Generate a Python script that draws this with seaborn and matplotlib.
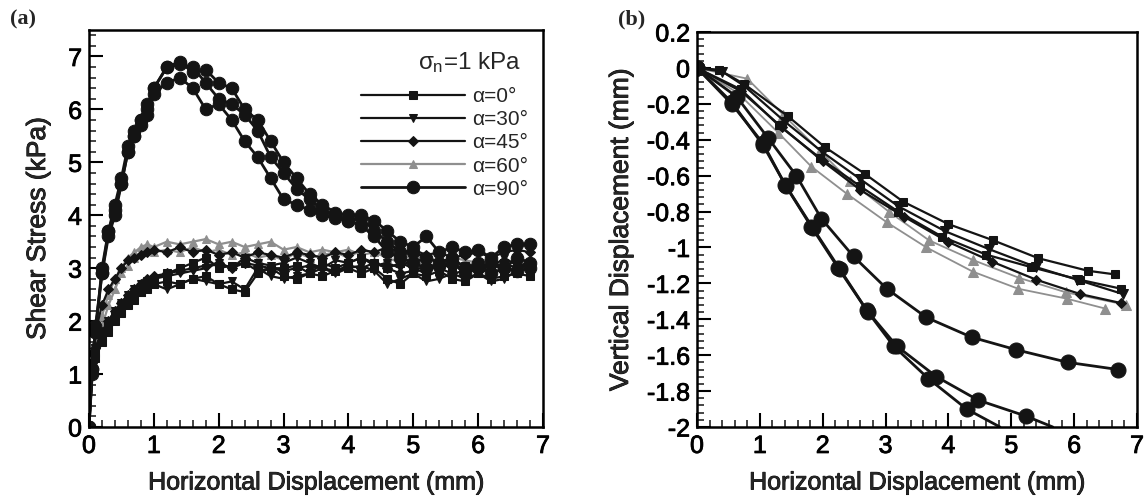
import numpy as np
import pandas as pd
import matplotlib
matplotlib.use("Agg")
import matplotlib.pyplot as plt
import matplotlib.patheffects as pe
from matplotlib.ticker import MultipleLocator, AutoMinorLocator
import seaborn as sns

# ---------------- data: panel (a) shear stress vs horizontal displacement ----------------
A_X = [0, 0.05, 0.1, 0.2, 0.3, 0.4, 0.5, 0.6, 0.7, 0.8, 0.9, 1.0, 1.2, 1.4, 1.6, 1.8, 2.0,
       2.2, 2.4, 2.6, 2.8, 3.0, 3.2, 3.4, 3.6, 3.8, 4.0, 4.2, 4.4, 4.6, 4.8, 5.0, 5.2, 5.4,
       5.6, 5.8, 6.0, 6.2, 6.4, 6.6, 6.8]

A_Y_0_1 = [0, 1.1, 1.4, 1.7, 1.9, 2.1, 2.2, 2.35, 2.45, 2.55, 2.6, 2.7, 2.75, 2.7, 2.8, 2.85,
           2.7, 2.6, 2.55, 2.9, 3.0, 2.85, 2.8, 2.9, 2.85, 2.95, 3.0, 2.9, 3.0, 2.8, 2.7, 2.9,
           2.85, 2.95, 2.8, 2.75, 2.9, 2.8, 2.85, 2.9, 2.85]
A_Y_0_2 = [0, 1.0, 1.3, 1.6, 1.8, 2.0, 2.15, 2.3, 2.4, 2.55, 2.65, 2.8, 2.9, 3.0, 3.1, 3.2,
           3.0, 3.05, 3.1, 2.95, 3.0, 3.0, 3.05, 2.9, 3.1, 3.0, 3.1, 3.2, 3.1, 3.0, 3.1, 3.0,
           2.9, 3.1, 3.0, 3.05, 2.9, 3.0, 3.1, 3.0, 3.1]
A_Y_30_1 = [0, 1.2, 1.5, 1.8, 2.0, 2.2, 2.35, 2.5, 2.6, 2.7, 2.75, 2.8, 2.85, 2.9, 2.95, 3.0,
            3.1, 3.0, 3.2, 3.1, 3.05, 3.1, 3.2, 3.1, 3.0, 3.15, 3.1, 3.2, 3.05, 3.1, 3.0, 3.2,
            3.1, 3.0, 3.1, 2.95, 3.05, 3.0, 3.2, 3.05, 3.1]
A_Y_30_2 = [0, 1.0, 1.5, 1.7, 1.9, 2.1, 2.3, 2.4, 2.55, 2.65, 2.7, 2.7, 2.6, 2.7, 2.8, 2.75,
            2.7, 2.75, 2.6, 3.0, 2.85, 2.8, 2.85, 2.9, 3.0, 2.9, 3.0, 3.05, 2.95, 2.7, 2.8, 2.9,
            2.75, 2.8, 2.9, 2.8, 2.9, 2.75, 2.8, 2.95, 3.0]
A_Y_45_1 = [0, 1.4, 1.8, 2.3, 2.6, 2.8, 3.0, 3.15, 3.2, 3.25, 3.3, 3.35, 3.3, 3.4, 3.3, 3.35,
            3.25, 3.3, 3.2, 3.3, 3.25, 3.2, 3.3, 3.25, 3.2, 3.3, 3.25, 3.35, 3.3, 3.4, 3.3, 3.35,
            3.25, 3.3, 3.2, 3.25, 3.3, 3.2, 3.3, 3.35, 3.3]
A_Y_45_2 = [0, 1.2, 1.5, 1.8, 2.0, 2.2, 2.35, 2.5, 2.6, 2.7, 2.8, 2.85, 2.9, 2.95, 3.0, 3.05,
            3.1, 3.0, 3.1, 3.05, 3.0, 2.95, 3.0, 3.05, 3.0, 2.95, 3.05, 3.0, 3.1, 3.0, 2.9, 2.95,
            3.05, 3.0, 2.9, 2.95, 3.0, 3.1, 2.95, 3.0, 3.05]
A_Y_60_1 = [0, 1.2, 1.6, 2.1, 2.5, 2.8, 3.0, 3.2, 3.3, 3.4, 3.45, 3.4, 3.5, 3.45, 3.5, 3.55,
            3.45, 3.5, 3.4, 3.45, 3.5, 3.35, 3.4, 3.3, 3.35, 3.3, 3.35, 3.25, 3.3, 3.2, 3.3, 3.15,
            3.25, 3.1, 3.2, 3.15, 3.1, 3.2, 3.05, 3.15, 3.1]
A_Y_60_2 = [0, 1.1, 1.5, 1.9, 2.3, 2.6, 2.9, 3.05, 3.2, 3.3, 3.35, 3.3, 3.35, 3.3, 3.4, 3.3,
            3.35, 3.25, 3.3, 3.2, 3.25, 3.15, 3.3, 3.2, 3.25, 3.3, 3.2, 3.35, 3.3, 3.2, 3.1, 3.2,
            3.0, 3.1, 3.15, 3.05, 3.1, 3.0, 3.1, 3.0, 3.15]
A_Y_90_1 = [0, 1.1, 1.9, 2.9, 3.7, 4.1, 4.6, 5.2, 5.5, 5.8, 6.0, 6.4, 6.8, 6.9, 6.7, 6.75,
            6.5, 6.4, 6.0, 5.8, 5.4, 5.0, 4.7, 4.4, 4.2, 4.05, 4.0, 4.0, 3.9, 3.7, 3.5, 3.4,
            3.6, 3.3, 3.4, 3.3, 3.35, 3.2, 3.4, 3.45, 3.45]
A_Y_90_2 = [0, 1.0, 1.8, 2.9, 3.6, 4.0, 4.6, 5.2, 5.5, 5.7, 5.9, 6.3, 6.5, 6.6, 6.4, 6.0,
            6.1, 5.8, 5.4, 5.1, 4.7, 4.3, 4.2, 4.1, 4.0, 3.95, 3.9, 3.8, 3.6, 3.3, 3.2, 3.1,
            3.0, 3.05, 3.1, 2.9, 3.0, 3.1, 3.0, 3.2, 3.1]
A_Y_90_3 = [0, 1.1, 1.8, 3.0, 3.7, 4.2, 4.7, 5.3, 5.6, 5.8, 6.1, 6.4, 6.8, 6.85, 6.8, 6.5,
            6.2, 6.1, 5.9, 5.6, 5.1, 4.8, 4.5, 4.3, 4.1, 4.0, 3.9, 3.95, 3.7, 3.5, 3.3, 3.3,
            3.2, 3.1, 3.2, 3.0, 3.1, 2.9, 3.0, 2.95, 3.0]

# ---------------- data: panel (b) vertical vs horizontal displacement ----------------
B_X_0_1 = [0, 0.35, 0.75, 1.45, 2.03, 2.67, 3.28, 4.0, 4.71, 5.43, 6.22, 6.65]
B_Y_0_1 = [0, -0.01, -0.09, -0.27, -0.44, -0.59, -0.745, -0.87, -0.96, -1.06, -1.13, -1.15]
B_X_0_2 = [0, 0.7, 1.3, 1.95, 2.6, 3.2, 3.9, 4.6, 5.32, 6.09, 6.75]
B_Y_0_2 = [0, -0.12, -0.32, -0.50, -0.66, -0.80, -0.94, -1.04, -1.11, -1.18, -1.23]
B_X_30 = [0, 0.4, 0.75, 1.4, 2.0, 2.6, 3.2, 3.95, 4.65, 5.4, 6.05, 6.78]
B_Y_30 = [0, -0.02, -0.10, -0.30, -0.47, -0.62, -0.77, -0.91, -1.01, -1.11, -1.18, -1.26]
B_X_45 = [0, 0.7, 1.35, 2.0, 2.6, 3.3, 4.0, 4.7, 5.4, 6.1, 6.75]
B_Y_45 = [0, -0.13, -0.33, -0.52, -0.68, -0.83, -0.97, -1.08, -1.18, -1.26, -1.31]
B_X_60_1 = [0, 0.8, 1.37, 1.95, 2.43, 3.05, 3.69, 4.39, 5.13, 5.87, 6.83]
B_Y_60_1 = [0, -0.06, -0.26, -0.46, -0.63, -0.80, -0.96, -1.07, -1.17, -1.25, -1.32]
B_X_60_2 = [0, 0.65, 1.29, 1.82, 2.38, 3.02, 3.65, 4.39, 5.11, 5.88, 6.49]
B_Y_60_2 = [0, -0.14, -0.36, -0.55, -0.70, -0.86, -1.0, -1.135, -1.23, -1.285, -1.34]
B_X_90_1 = [0, 0.63, 1.13, 1.58, 1.98, 2.49, 3.02, 3.65, 4.37, 5.08, 5.9, 6.70]
B_Y_90_1 = [0, -0.16, -0.39, -0.60, -0.84, -1.05, -1.23, -1.39, -1.50, -1.57, -1.64, -1.68]
B_X_90_2 = [0, 0.55, 1.05, 1.40, 1.82, 2.25, 2.70, 3.18, 3.81, 4.47, 5.24, 5.66]
B_Y_90_2 = [0, -0.20, -0.42, -0.65, -0.885, -1.116, -1.35, -1.55, -1.72, -1.85, -1.94, -2.0]
B_X_90_3 = [0, 0.55, 1.05, 1.42, 1.84, 2.27, 2.72, 3.13, 3.68, 4.29, 4.82]
B_Y_90_3 = [0, -0.19, -0.43, -0.66, -0.89, -1.12, -1.36, -1.55, -1.73, -1.90, -2.0]

LABELS = ["α=0°", "α=30°", "α=45°", "α=60°", "α=90°"]
B_YTICKS = [0.2, 0, -0.2, -0.4, -0.6, -0.8, -1, -1.2, -1.4, -1.6, -1.8, -2]
B_YTICKLABELS = ["0.2", "0", "-0.2", "-0.4", "-0.6", "-0.8", "-1", "-1.2", "-1.4",
                 "-1.6", "-1.8", "-2"]

# ---------------- styling ----------------
sns.set_style("ticks")
plt.rcParams["font.family"] = ["Liberation Sans", "DejaVu Sans"]
plt.rcParams["mathtext.fontset"] = "custom"
plt.rcParams["mathtext.rm"] = "Liberation Sans"
plt.rcParams["mathtext.it"] = "Liberation Sans"
plt.rcParams["mathtext.sf"] = "Liberation Sans"

BLACK = "#141414"
GRAY = "#8f8f8f"
STY = {
    "α=0°": dict(color=BLACK, marker="s", ms=5.5),
    "α=30°": dict(color=BLACK, marker="v", ms=6),
    "α=45°": dict(color=BLACK, marker="D", ms=5),
    "α=60°": dict(color=GRAY, marker="^", ms=6),
    "α=90°": dict(color=BLACK, marker="o", ms=9),
}

fig = plt.figure(figsize=(11.48, 4.99), dpi=100)
axA = fig.add_axes([89 / 1148, 72 / 499, 454 / 1148, 397 / 499])
axB = fig.add_axes([697 / 1148, 72 / 499, 440 / 1148, 395 / 499])


def draw(ax, xs, ys, lab, lw=1.6, ms_scale=1.0, markevery=None, label=True):
    st = STY[lab]
    df = pd.DataFrame({"x": xs, "y": ys})
    kw = {}
    if markevery is not None:
        kw["markevery"] = markevery
    sns.lineplot(data=df, x="x", y="y", ax=ax, estimator=None, sort=False,
                 color=st["color"], marker=st["marker"], markersize=st["ms"] * ms_scale,
                 markeredgecolor=st["color"], markerfacecolor=st["color"],
                 linewidth=lw, label=lab if label else None, **kw)


# panel (a)
draw(axA, A_X, A_Y_60_1, LABELS[3])
draw(axA, A_X, A_Y_60_2, LABELS[3], label=False)
draw(axA, A_X, A_Y_0_1, LABELS[0])
draw(axA, A_X, A_Y_0_2, LABELS[0], label=False)
draw(axA, A_X, A_Y_30_1, LABELS[1])
draw(axA, A_X, A_Y_30_2, LABELS[1], label=False)
draw(axA, A_X, A_Y_45_1, LABELS[2])
draw(axA, A_X, A_Y_45_2, LABELS[2], label=False)
draw(axA, A_X, A_Y_90_1, LABELS[4], lw=2.0)
draw(axA, A_X, A_Y_90_2, LABELS[4], lw=2.0, label=False)
draw(axA, A_X, A_Y_90_3, LABELS[4], lw=2.0, label=False)

# panel (b)
draw(axB, B_X_60_1, B_Y_60_1, LABELS[3], lw=1.3, ms_scale=1.1)
draw(axB, B_X_60_2, B_Y_60_2, LABELS[3], lw=1.3, ms_scale=1.1)
draw(axB, B_X_45, B_Y_45, LABELS[2], lw=1.6, ms_scale=1.1)
draw(axB, B_X_30, B_Y_30, LABELS[1], lw=1.6, ms_scale=1.1)
draw(axB, B_X_0_2, B_Y_0_2, LABELS[0], lw=1.6, ms_scale=1.1)
draw(axB, B_X_0_1, B_Y_0_1, LABELS[0], lw=1.6, ms_scale=1.1)
draw(axB, B_X_90_1, B_Y_90_1, LABELS[4], lw=2.0, ms_scale=1.2)
draw(axB, B_X_90_2, B_Y_90_2, LABELS[4], lw=2.0, ms_scale=1.2, markevery=slice(0, -1))
draw(axB, B_X_90_3, B_Y_90_3, LABELS[4], lw=2.0, ms_scale=1.2, markevery=slice(0, -1))
if axB.get_legend() is not None:
    axB.get_legend().remove()

# legend for (a)
handles, labels = axA.get_legend_handles_labels()
hmap = {}
for h, l in zip(handles, labels):
    hmap.setdefault(l, h)
axA.get_legend().remove()
leg = axA.legend([hmap[l] for l in LABELS], LABELS, loc="upper right",
                 bbox_to_anchor=((528 - 89) / 454, (427 - 87) / 397), frameon=False,
                 fontsize=15, handlelength=5.0, handletextpad=0.35, labelspacing=0.2,
                 numpoints=1, borderaxespad=0, borderpad=0)
axA.text((521 - 89) / 454, (427 - 63) / 397, r"$\sigma_{\mathrm{n}}$=1 kPa",
         transform=axA.transAxes, ha="right", va="center", fontsize=17.5)

# axes formatting
for ax in (axA, axB):
    ax.set_xlim(0, 7)
    ax.xaxis.set_major_locator(MultipleLocator(1))
    ax.xaxis.set_minor_locator(MultipleLocator(0.2))
    ax.tick_params(which="major", direction="in", length=10, width=1.5,
                   labelsize=18, pad=5, colors="black")
    ax.tick_params(which="minor", direction="in", length=5, width=1.2)
    for s in ax.spines.values():
        s.set_linewidth(1.8)
        s.set_color("black")
    ax.set_xlabel("Horizontal Displacement (mm)", fontsize=18, labelpad=9)

axA.set_ylim(0, 7.5)
axA.yaxis.set_major_locator(MultipleLocator(1))
axA.yaxis.set_minor_locator(MultipleLocator(0.2))
axA.set_ylabel("Shear Stress (kPa)", fontsize=19, labelpad=13)

axB.set_ylim(-2, 0.2)
axB.set_yticks(B_YTICKS)
axB.set_yticklabels(B_YTICKLABELS)
axB.yaxis.set_minor_locator(AutoMinorLocator(5))
axB.set_ylabel("Vertical Displacement (mm)", fontsize=19, labelpad=10)

fig.text(23 / 1148, 1 - 19 / 499, "(a)", fontsize=16, fontweight="bold",
         family="Liberation Serif", ha="center", va="center")
fig.text(632 / 1148, 1 - 19 / 499, "(b)", fontsize=16, fontweight="bold",
         family="Liberation Serif", ha="center", va="center")

# slight thickening of text, like the heavy print of the original
stroke = [pe.withStroke(linewidth=0.6, foreground="black")]
for ax in (axA, axB):
    for t in ax.get_xticklabels() + ax.get_yticklabels():
        t.set_path_effects(stroke)
    ax.xaxis.label.set_path_effects(stroke)
    ax.yaxis.label.set_path_effects(stroke)

fig.savefig("out.png", dpi=100)
